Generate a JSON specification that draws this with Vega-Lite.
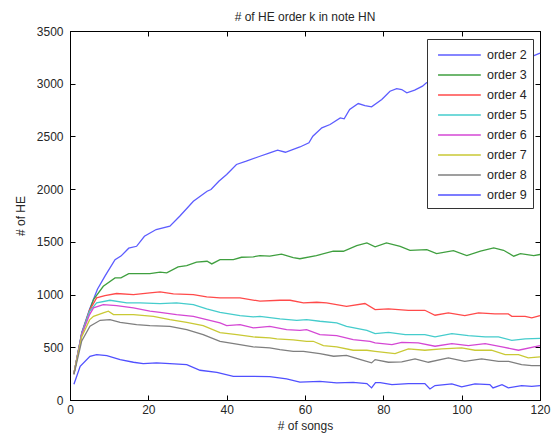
{
  "$schema": "https://vega.github.io/schema/vega-lite/v6.json",
  "width": 470,
  "height": 369,
  "autosize": {"type": "none"},
  "padding": {"left": 70, "top": 31, "right": 20, "bottom": 40},
  "background": "white",
  "title": {"text": "# of HE order k in note HN", "fontSize": 12, "fontWeight": "normal", "font": "Liberation Sans", "color": "#262626", "offset": 1},
  "config": {
    "view": {"stroke": "#000", "strokeWidth": 1},
    "axis": {"grid": false, "domainColor": "#000", "tickColor": "#000", "tickSize": -5, "labelFont": "Liberation Sans", "labelFontSize": 12, "labelColor": "#262626", "titleFont": "Liberation Sans", "titleFontSize": 12, "titleFontWeight": "normal", "titleColor": "#262626", "labelFlush": false, "format": "d"},
    "legend": {"orient": "none", "legendX": 357, "legendY": 8, "symbolType": "M-0.55,0H4.2", "symbolSize": 324, "symbolStrokeWidth": 1.5, "labelFont": "Liberation Sans", "labelFontSize": 12.5, "labelColor": "#262626", "labelOffset": 34, "padding": 6, "strokeColor": "#333", "fillColor": "white", "rowPadding": 3, "title": null}
  },
  "data": {"values": [
    {"k":"order 2","x":1,"y":250},{"k":"order 2","x":3,"y":640},{"k":"order 2","x":5,"y":860},{"k":"order 2","x":7,"y":1050},{"k":"order 2","x":9,"y":1180},{"k":"order 2","x":11.5,"y":1330},{"k":"order 2","x":13,"y":1365},{"k":"order 2","x":15,"y":1440},{"k":"order 2","x":17,"y":1458},{"k":"order 2","x":19,"y":1553},{"k":"order 2","x":22,"y":1617},{"k":"order 2","x":25.5,"y":1648},{"k":"order 2","x":28,"y":1743},{"k":"order 2","x":31.5,"y":1885},{"k":"order 2","x":35,"y":1980},{"k":"order 2","x":36,"y":1996},{"k":"order 2","x":38,"y":2075},{"k":"order 2","x":40,"y":2139},{"k":"order 2","x":42.5,"y":2234},{"k":"order 2","x":45,"y":2265},{"k":"order 2","x":48.5,"y":2312},{"k":"order 2","x":51,"y":2344},{"k":"order 2","x":53,"y":2369},{"k":"order 2","x":55,"y":2350},{"k":"order 2","x":58.7,"y":2400},{"k":"order 2","x":61,"y":2439},{"k":"order 2","x":62,"y":2502},{"k":"order 2","x":64.3,"y":2582},{"k":"order 2","x":66.4,"y":2613},{"k":"order 2","x":69,"y":2676},{"k":"order 2","x":70,"y":2667},{"k":"order 2","x":71.4,"y":2755},{"k":"order 2","x":73.6,"y":2812},{"k":"order 2","x":75.3,"y":2793},{"k":"order 2","x":77,"y":2781},{"k":"order 2","x":79.6,"y":2850},{"k":"order 2","x":81.7,"y":2929},{"k":"order 2","x":83.4,"y":2954},{"k":"order 2","x":84.7,"y":2945},{"k":"order 2","x":86,"y":2914},{"k":"order 2","x":88,"y":2939},{"k":"order 2","x":90,"y":2977},{"k":"order 2","x":91,"y":3009},{"k":"order 2","x":95,"y":3060},{"k":"order 2","x":100,"y":3110},{"k":"order 2","x":105,"y":3160},{"k":"order 2","x":110,"y":3200},{"k":"order 2","x":115,"y":3230},{"k":"order 2","x":118,"y":3260},{"k":"order 2","x":120,"y":3290},
    {"k":"order 3","x":1,"y":250},{"k":"order 3","x":3,"y":630},{"k":"order 3","x":5,"y":850},{"k":"order 3","x":6,"y":953},{"k":"order 3","x":8.5,"y":1079},{"k":"order 3","x":11.5,"y":1158},{"k":"order 3","x":13,"y":1158},{"k":"order 3","x":15,"y":1199},{"k":"order 3","x":18,"y":1199},{"k":"order 3","x":20.4,"y":1199},{"k":"order 3","x":23,"y":1212},{"k":"order 3","x":24.7,"y":1206},{"k":"order 3","x":27.6,"y":1263},{"k":"order 3","x":29.8,"y":1275},{"k":"order 3","x":32.3,"y":1307},{"k":"order 3","x":35,"y":1316},{"k":"order 3","x":36.2,"y":1291},{"k":"order 3","x":38.3,"y":1332},{"k":"order 3","x":41.7,"y":1332},{"k":"order 3","x":43.8,"y":1354},{"k":"order 3","x":46.8,"y":1358},{"k":"order 3","x":48.5,"y":1370},{"k":"order 3","x":51,"y":1364},{"k":"order 3","x":54,"y":1383},{"k":"order 3","x":57,"y":1351},{"k":"order 3","x":58.7,"y":1340},{"k":"order 3","x":62.9,"y":1370},{"k":"order 3","x":67.2,"y":1411},{"k":"order 3","x":69.8,"y":1411},{"k":"order 3","x":73.2,"y":1465},{"k":"order 3","x":75.8,"y":1490},{"k":"order 3","x":77.9,"y":1453},{"k":"order 3","x":80.8,"y":1490},{"k":"order 3","x":84.3,"y":1458},{"k":"order 3","x":86.8,"y":1420},{"k":"order 3","x":91.1,"y":1427},{"k":"order 3","x":93.6,"y":1389},{"k":"order 3","x":97.9,"y":1417},{"k":"order 3","x":101.3,"y":1370},{"k":"order 3","x":104.8,"y":1411},{"k":"order 3","x":108.2,"y":1443},{"k":"order 3","x":110.7,"y":1420},{"k":"order 3","x":113.3,"y":1364},{"k":"order 3","x":115,"y":1389},{"k":"order 3","x":118.4,"y":1370},{"k":"order 3","x":120,"y":1380},
    {"k":"order 4","x":1,"y":250},{"k":"order 4","x":3,"y":630},{"k":"order 4","x":5,"y":850},{"k":"order 4","x":6.8,"y":969},{"k":"order 4","x":8.9,"y":991},{"k":"order 4","x":11.9,"y":1010},{"k":"order 4","x":16.2,"y":1000},{"k":"order 4","x":20.4,"y":1016},{"k":"order 4","x":23,"y":1026},{"k":"order 4","x":26.4,"y":1007},{"k":"order 4","x":31.5,"y":1000},{"k":"order 4","x":34.9,"y":978},{"k":"order 4","x":38.3,"y":969},{"k":"order 4","x":43.4,"y":969},{"k":"order 4","x":48.5,"y":937},{"k":"order 4","x":53.6,"y":946},{"k":"order 4","x":56.2,"y":946},{"k":"order 4","x":59.6,"y":921},{"k":"order 4","x":63,"y":927},{"k":"order 4","x":65.5,"y":921},{"k":"order 4","x":70.6,"y":889},{"k":"order 4","x":75.3,"y":915},{"k":"order 4","x":77.9,"y":858},{"k":"order 4","x":81.3,"y":864},{"k":"order 4","x":86.4,"y":851},{"k":"order 4","x":90.6,"y":851},{"k":"order 4","x":93.2,"y":804},{"k":"order 4","x":96.6,"y":826},{"k":"order 4","x":100.8,"y":801},{"k":"order 4","x":104.3,"y":826},{"k":"order 4","x":108.5,"y":817},{"k":"order 4","x":111.9,"y":817},{"k":"order 4","x":112.8,"y":794},{"k":"order 4","x":116.2,"y":794},{"k":"order 4","x":117.9,"y":779},{"k":"order 4","x":120,"y":801},
    {"k":"order 5","x":1,"y":250},{"k":"order 5","x":3,"y":630},{"k":"order 5","x":5,"y":840},{"k":"order 5","x":6.8,"y":921},{"k":"order 5","x":10.2,"y":946},{"k":"order 5","x":14.5,"y":921},{"k":"order 5","x":17.9,"y":921},{"k":"order 5","x":23,"y":915},{"k":"order 5","x":27.2,"y":921},{"k":"order 5","x":31.5,"y":905},{"k":"order 5","x":34.9,"y":864},{"k":"order 5","x":38.3,"y":832},{"k":"order 5","x":43.4,"y":801},{"k":"order 5","x":46.8,"y":788},{"k":"order 5","x":48.5,"y":794},{"k":"order 5","x":53.6,"y":769},{"k":"order 5","x":57.9,"y":756},{"k":"order 5","x":60.4,"y":763},{"k":"order 5","x":63.8,"y":747},{"k":"order 5","x":68.1,"y":731},{"k":"order 5","x":70.6,"y":699},{"k":"order 5","x":75.8,"y":661},{"k":"order 5","x":77.9,"y":630},{"k":"order 5","x":81.3,"y":642},{"k":"order 5","x":85.6,"y":620},{"k":"order 5","x":90.6,"y":620},{"k":"order 5","x":93.2,"y":598},{"k":"order 5","x":97.5,"y":630},{"k":"order 5","x":101.7,"y":611},{"k":"order 5","x":106,"y":598},{"k":"order 5","x":109.4,"y":598},{"k":"order 5","x":112.8,"y":566},{"k":"order 5","x":116.2,"y":580},{"k":"order 5","x":120,"y":585},
    {"k":"order 6","x":1,"y":250},{"k":"order 6","x":3,"y":620},{"k":"order 6","x":5,"y":810},{"k":"order 6","x":6,"y":874},{"k":"order 6","x":8.5,"y":905},{"k":"order 6","x":11.9,"y":896},{"k":"order 6","x":16.2,"y":874},{"k":"order 6","x":20.4,"y":842},{"k":"order 6","x":23,"y":832},{"k":"order 6","x":27.2,"y":810},{"k":"order 6","x":31.5,"y":794},{"k":"order 6","x":34.9,"y":763},{"k":"order 6","x":38.3,"y":731},{"k":"order 6","x":40,"y":706},{"k":"order 6","x":43.4,"y":715},{"k":"order 6","x":46.8,"y":684},{"k":"order 6","x":51,"y":699},{"k":"order 6","x":55.3,"y":668},{"k":"order 6","x":58.7,"y":661},{"k":"order 6","x":60.4,"y":668},{"k":"order 6","x":63.8,"y":620},{"k":"order 6","x":68.1,"y":611},{"k":"order 6","x":72.3,"y":573},{"k":"order 6","x":76.6,"y":557},{"k":"order 6","x":77.9,"y":542},{"k":"order 6","x":82.2,"y":526},{"k":"order 6","x":84.7,"y":547},{"k":"order 6","x":88.9,"y":542},{"k":"order 6","x":93.2,"y":510},{"k":"order 6","x":97.5,"y":535},{"k":"order 6","x":101.7,"y":516},{"k":"order 6","x":106,"y":535},{"k":"order 6","x":110.3,"y":504},{"k":"order 6","x":114.5,"y":472},{"k":"order 6","x":120,"y":516},
    {"k":"order 7","x":1,"y":250},{"k":"order 7","x":3,"y":600},{"k":"order 7","x":5,"y":760},{"k":"order 7","x":6,"y":794},{"k":"order 7","x":8.5,"y":826},{"k":"order 7","x":9.8,"y":842},{"k":"order 7","x":11.1,"y":810},{"k":"order 7","x":16.2,"y":810},{"k":"order 7","x":21.3,"y":794},{"k":"order 7","x":25.5,"y":763},{"k":"order 7","x":29.8,"y":737},{"k":"order 7","x":34,"y":706},{"k":"order 7","x":38.3,"y":640},{"k":"order 7","x":42.6,"y":620},{"k":"order 7","x":46.8,"y":598},{"k":"order 7","x":51,"y":590},{"k":"order 7","x":52.8,"y":580},{"k":"order 7","x":57,"y":570},{"k":"order 7","x":60.4,"y":557},{"k":"order 7","x":62.1,"y":557},{"k":"order 7","x":64.7,"y":516},{"k":"order 7","x":68.1,"y":504},{"k":"order 7","x":72.3,"y":472},{"k":"order 7","x":75.8,"y":472},{"k":"order 7","x":77.9,"y":462},{"k":"order 7","x":83,"y":440},{"k":"order 7","x":86.4,"y":485},{"k":"order 7","x":90.6,"y":472},{"k":"order 7","x":94.9,"y":485},{"k":"order 7","x":100,"y":494},{"k":"order 7","x":103.4,"y":472},{"k":"order 7","x":107.6,"y":472},{"k":"order 7","x":111.1,"y":431},{"k":"order 7","x":114.5,"y":431},{"k":"order 7","x":117,"y":399},{"k":"order 7","x":120,"y":409},
    {"k":"order 8","x":1,"y":240},{"k":"order 8","x":3,"y":560},{"k":"order 8","x":5.1,"y":699},{"k":"order 8","x":7.7,"y":756},{"k":"order 8","x":10.2,"y":763},{"k":"order 8","x":12.8,"y":737},{"k":"order 8","x":17,"y":715},{"k":"order 8","x":20.4,"y":706},{"k":"order 8","x":25.5,"y":699},{"k":"order 8","x":29.8,"y":668},{"k":"order 8","x":34,"y":620},{"k":"order 8","x":38.3,"y":557},{"k":"order 8","x":42.6,"y":530},{"k":"order 8","x":46.8,"y":504},{"k":"order 8","x":51,"y":494},{"k":"order 8","x":53.6,"y":478},{"k":"order 8","x":57,"y":462},{"k":"order 8","x":59.6,"y":462},{"k":"order 8","x":63.8,"y":440},{"k":"order 8","x":67.3,"y":415},{"k":"order 8","x":70.6,"y":424},{"k":"order 8","x":74.2,"y":383},{"k":"order 8","x":77,"y":352},{"k":"order 8","x":77.9,"y":383},{"k":"order 8","x":81.3,"y":358},{"k":"order 8","x":84.7,"y":361},{"k":"order 8","x":88.1,"y":390},{"k":"order 8","x":91.5,"y":358},{"k":"order 8","x":96.6,"y":399},{"k":"order 8","x":100.8,"y":367},{"k":"order 8","x":105.1,"y":390},{"k":"order 8","x":109.4,"y":367},{"k":"order 8","x":112,"y":367},{"k":"order 8","x":115.3,"y":336},{"k":"order 8","x":117.9,"y":326},{"k":"order 8","x":120,"y":326},
    {"k":"order 9","x":1,"y":150},{"k":"order 9","x":2.6,"y":320},{"k":"order 9","x":5.1,"y":415},{"k":"order 9","x":6.8,"y":431},{"k":"order 9","x":9.4,"y":421},{"k":"order 9","x":12.8,"y":383},{"k":"order 9","x":16.2,"y":358},{"k":"order 9","x":18.7,"y":345},{"k":"order 9","x":22.1,"y":352},{"k":"order 9","x":25.5,"y":345},{"k":"order 9","x":29.8,"y":336},{"k":"order 9","x":33.2,"y":282},{"k":"order 9","x":37.5,"y":263},{"k":"order 9","x":41.7,"y":225},{"k":"order 9","x":46.8,"y":225},{"k":"order 9","x":51,"y":222},{"k":"order 9","x":55.3,"y":200},{"k":"order 9","x":58.7,"y":170},{"k":"order 9","x":63.8,"y":177},{"k":"order 9","x":68.1,"y":162},{"k":"order 9","x":72.3,"y":168},{"k":"order 9","x":75.8,"y":156},{"k":"order 9","x":77,"y":115},{"k":"order 9","x":78,"y":165},{"k":"order 9","x":79.2,"y":165},{"k":"order 9","x":82.2,"y":146},{"k":"order 9","x":86.4,"y":156},{"k":"order 9","x":90.6,"y":156},{"k":"order 9","x":91.9,"y":105},{"k":"order 9","x":93.2,"y":137},{"k":"order 9","x":97.5,"y":153},{"k":"order 9","x":100,"y":124},{"k":"order 9","x":103.4,"y":153},{"k":"order 9","x":107.2,"y":146},{"k":"order 9","x":108,"y":115},{"k":"order 9","x":110.3,"y":146},{"k":"order 9","x":111.9,"y":115},{"k":"order 9","x":115.3,"y":137},{"k":"order 9","x":117.9,"y":130},{"k":"order 9","x":120,"y":137}
  ]},
  "layer": [
    {
      "mark": {"type": "line", "strokeWidth": 1.3},
      "encoding": {
        "x": {"field": "x", "type": "quantitative", "scale": {"domain": [0, 120], "nice": false, "zero": false}, "axis": {"values": [0, 20, 40, 60, 80, 100, 120], "labelPadding": 9, "title": "# of songs", "titlePadding": 5}},
        "y": {"field": "y", "type": "quantitative", "scale": {"domain": [0, 3500], "nice": false}, "axis": {"values": [0, 500, 1000, 1500, 2000, 2500, 3000, 3500], "labelPadding": 12, "title": "# of HE", "titlePadding": 9}},
        "color": {"field": "k", "type": "nominal", "scale": {"domain": ["order 2", "order 3", "order 4", "order 5", "order 6", "order 7", "order 8", "order 9"], "range": ["#5c5cff", "#3f9f3f", "#ff4a4a", "#45cccc", "#d447d4", "#c9c935", "#7f7f7f", "#5050ff"]}}
      }
    },
    {
      "mark": {"type": "point", "opacity": 0},
      "encoding": {
        "x": {"field": "x", "type": "quantitative", "axis": {"orient": "top", "values": [0, 20, 40, 60, 80, 100, 120], "labels": false, "title": null}},
        "y": {"field": "y", "type": "quantitative", "axis": {"orient": "right", "values": [0, 500, 1000, 1500, 2000, 2500, 3000, 3500], "labels": false, "title": null}}
      }
    }
  ],
  "resolve": {"axis": {"x": "independent", "y": "independent"}}
}
